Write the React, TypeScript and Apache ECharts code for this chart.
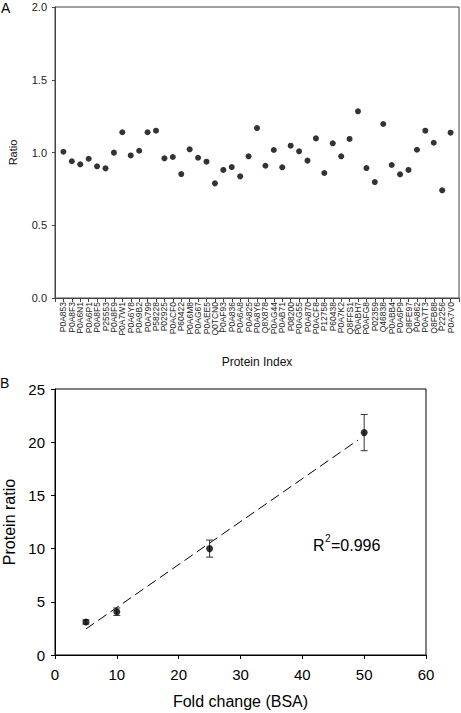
import React, { useEffect, useRef } from "react";
import * as echarts from "echarts";

const proteinIds = [
  "P0A853", "P0A8F3", "P0A6N1", "P0A6P1", "P0A8F5", "P25553", "P0A8F9", "P0A7W1",
  "P0A6Y8", "P0A9B2", "P0A799", "P58228", "P02925", "P0ACF0", "P60422", "P0A6M8",
  "P0AG67", "P0AEE5", "Q0TCN0", "P0AF93", "P0A836", "P0A6A8", "P0A825", "P0A8Y6",
  "Q8X878", "P0AG44", "P0AB71", "P08200", "P0AG55", "P0A870", "P0ACF8", "P12758",
  "P60438", "P0A7K2", "Q8FFS1", "P0ABH7", "P0AFG8", "P02359", "Q46838", "P0ABB4",
  "P0A6P9", "Q8FE97", "P0A862", "P0A7T3", "Q8FB88", "P22256", "P0A7V0",
];
const ratios = [
  1.005, 0.94, 0.919, 0.957, 0.905, 0.891, 0.999, 1.139, 0.98, 1.012,
  1.139, 1.15, 0.96, 0.969, 0.852, 1.022, 0.964, 0.937, 0.788, 0.88,
  0.9, 0.836, 0.974, 1.168, 0.909, 1.017, 0.898, 1.047, 1.008, 0.944,
  1.097, 0.859, 1.063, 0.974, 1.093, 1.283, 0.893, 0.797, 1.196, 0.914,
  0.85, 0.88, 1.019, 1.15, 1.067, 0.74, 1.136,
];

const foldChange = [5, 10, 25, 50];
const proteinRatio = [3.1, 4.07, 10.0, 20.9];
const ratioError = [0.2, 0.35, 0.8, 1.7];
const fitX = [5, 49];
const fitY = [2.45, 20.2];

const FONT = "'Liberation Sans', Arial, sans-serif";

export default function App() {
  const ref = useRef<HTMLDivElement>(null);
  useEffect(() => {
    if (!ref.current) return;
    const chart = echarts.init(ref.current, undefined, { renderer: "svg" });
    const cats = ["", ...proteinIds, ""];
    const grayAxis = { lineStyle: { color: "#444", width: 1 } };
    const blackAxis = { lineStyle: { color: "#000", width: 1 } };
    chart.setOption({
      animation: false,
      backgroundColor: "#fff",
      textStyle: { fontFamily: FONT },
      grid: [
        { left: 55, top: 7, right: 2, bottom: 415, show: true, borderColor: "#444", borderWidth: 1, containLabel: false, outerBoundsMode: "none" },
        { left: 55, top: 389, right: 35, bottom: 58, show: true, borderColor: "#000", borderWidth: 1, containLabel: false, outerBoundsMode: "none" },
      ],
      xAxis: [
        {
          gridIndex: 0,
          type: "category",
          data: cats,
          boundaryGap: false,
          axisLine: grayAxis,
          axisTick: { show: true, inside: false, length: 4, interval: 0, lineStyle: { color: "#444" } },
          axisLabel: { interval: 0, rotate: 90, fontSize: 8.5, color: "#222", margin: 4, fontFamily: FONT },
          splitLine: { show: false },
          name: "Protein Index",
          nameLocation: "middle",
          nameGap: 58,
          nameTextStyle: { fontSize: 12, color: "#111", fontFamily: FONT },
        },
        {
          gridIndex: 1,
          type: "value",
          min: 0,
          max: 60,
          interval: 10,
          axisLine: blackAxis,
          axisTick: { show: true, inside: false, length: 4, lineStyle: { color: "#000" } },
          axisLabel: { fontSize: 15, color: "#000", margin: 12, fontFamily: FONT },
          splitLine: { show: false },
          name: "Fold change (BSA)",
          nameLocation: "middle",
          nameGap: 38,
          nameTextStyle: { fontSize: 16, color: "#000", fontFamily: FONT },
        },
      ],
      yAxis: [
        {
          gridIndex: 0,
          type: "value",
          min: 0,
          max: 2,
          interval: 0.5,
          axisLine: { show: true, ...grayAxis },
          axisTick: { show: true, inside: false, length: 3, lineStyle: { color: "#444" } },
          axisLabel: { fontSize: 11, color: "#222", margin: 8, formatter: (v: number) => v.toFixed(1), fontFamily: FONT },
          splitLine: { show: false },
          name: "Ratio",
          nameLocation: "middle",
          nameGap: 37,
          nameTextStyle: { fontSize: 11, color: "#111", fontFamily: FONT },
        },
        {
          gridIndex: 1,
          type: "value",
          min: 0,
          max: 25,
          interval: 5,
          axisLine: { show: true, ...blackAxis },
          axisTick: { show: true, inside: false, length: 4, lineStyle: { color: "#000" } },
          axisLabel: { fontSize: 15, color: "#000", margin: 10, fontFamily: FONT },
          splitLine: { show: false },
          name: "Protein ratio",
          nameLocation: "middle",
          nameGap: 38,
          nameTextStyle: { fontSize: 16, color: "#000", fontFamily: FONT },
        },
      ],
      series: [
        {
          type: "scatter",
          xAxisIndex: 0,
          yAxisIndex: 0,
          symbol: "circle",
          symbolSize: 6,
          itemStyle: { color: "#000" },
          data: ratios.map((v, i) => [proteinIds[i], v]),
        },
        {
          type: "custom",
          xAxisIndex: 1,
          yAxisIndex: 1,
          encode: { x: 0, y: [1, 2] },
          data: foldChange.map((x, i) => [x, proteinRatio[i] - ratioError[i], proteinRatio[i] + ratioError[i]]),
          renderItem: (params: any, api: any) => {
            const x = api.value(0);
            const lo = api.coord([x, api.value(1)]);
            const hi = api.coord([x, api.value(2)]);
            const w = 3.5;
            const st = { stroke: "#333", lineWidth: 1 };
            return {
              type: "group",
              children: [
                { type: "line", shape: { x1: lo[0], y1: lo[1], x2: hi[0], y2: hi[1] }, style: st },
                { type: "line", shape: { x1: lo[0] - w, y1: lo[1], x2: lo[0] + w, y2: lo[1] }, style: st },
                { type: "line", shape: { x1: hi[0] - w, y1: hi[1], x2: hi[0] + w, y2: hi[1] }, style: st },
              ],
            };
          },
          z: 2,
        },
        {
          type: "line",
          xAxisIndex: 1,
          yAxisIndex: 1,
          data: fitX.map((x, i) => [x, fitY[i]]),
          symbol: "none",
          lineStyle: { color: "#000", width: 1, type: [10, 5] },
          z: 1,
        },
        {
          type: "scatter",
          xAxisIndex: 1,
          yAxisIndex: 1,
          symbol: "circle",
          symbolSize: 7,
          itemStyle: { color: "#000" },
          data: foldChange.map((x, i) => [x, proteinRatio[i]]),
          z: 3,
        },
      ],
      graphic: [
        { type: "text", left: 1, top: 1, style: { text: "A", fontSize: 14, fill: "#000", fontFamily: FONT } },
        { type: "text", left: 0, top: 376, style: { text: "B", fontSize: 14, fill: "#000", fontFamily: FONT } },
        { type: "text", x: 313, y: 537, style: { text: "R", fontSize: 16, fill: "#000", fontFamily: FONT } },
        { type: "text", x: 325, y: 533, style: { text: "2", fontSize: 10, fill: "#000", fontFamily: FONT } },
        { type: "text", x: 331, y: 537, style: { text: "=0.996", fontSize: 16, fill: "#000", fontFamily: FONT } },
      ],
    });
    return () => chart.dispose();
  }, []);
  return (
    <div
      ref={ref}
      style={{ position: "fixed", left: 0, top: 0, width: 461, height: 713, background: "#fff" }}
    />
  );
}
